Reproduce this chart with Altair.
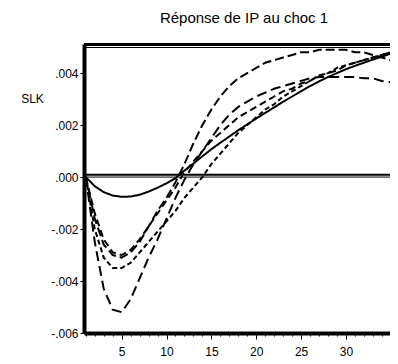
import altair as alt
import pandas as pd

periods = list(range(1, 37))

solid_a = [0, -0.00035, -0.00058, -0.00071, -0.00076, -0.00075, -0.00068, -0.00056, -0.00041, -0.00024,
           -0.00004, 0.00025, 0.00052, 0.00080, 0.00107, 0.00132, 0.00156, 0.00180, 0.00203, 0.00225,
           0.00247, 0.00268, 0.00290, 0.00310, 0.00330, 0.00350, 0.00368, 0.00385, 0.00400, 0.00415,
           0.00428, 0.00440, 0.00452, 0.00463, 0.00475, 0.00487]
dash_b = [0, -0.0016, -0.0026, -0.0030, -0.0031, -0.0029, -0.0025, -0.0019, -0.0013, -0.0008,
          -0.0002, 0.0005, 0.0013, 0.0020, 0.0026, 0.0031, 0.0035, 0.0038, 0.0040, 0.0042,
          0.0044, 0.0045, 0.0046, 0.0047, 0.0048, 0.0048, 0.0049, 0.0049, 0.0049, 0.0049,
          0.0048, 0.0048, 0.0047, 0.0046, 0.0045, 0.0044]
dash_c = [0, -0.0025, -0.0043, -0.0051, -0.0052, -0.0047, -0.0039, -0.0031, -0.0024, -0.0016,
          -0.0008, -0.0001, 0.0005, 0.0010, 0.0015, 0.0020, 0.0024, 0.0027, 0.0029, 0.0031,
          0.00325, 0.0034, 0.0035, 0.0036, 0.0037, 0.0038, 0.00385, 0.00385, 0.00385, 0.00385,
          0.00385, 0.0038, 0.0038, 0.0037, 0.00365, 0.0036]
dash_d = [0, -0.0020, -0.0031, -0.0035, -0.0035, -0.0033, -0.0029, -0.0025, -0.0021, -0.0017,
          -0.0013, -0.0008, -0.0004, 0.0000, 0.0005, 0.0009, 0.0013, 0.0017, 0.0020, 0.0023,
          0.0026, 0.0028, 0.0031, 0.0033, 0.0035, 0.0037, 0.0039, 0.0040, 0.0042, 0.0043,
          0.0044, 0.0045, 0.0046, 0.0047, 0.0048, 0.0049]
dash_e = [0, -0.0014, -0.0024, -0.0029, -0.0030, -0.0028, -0.0024, -0.0019, -0.0014, -0.0009,
          -0.0004, 0.0002, 0.0006, 0.0010, 0.0014, 0.0017, 0.0020, 0.0023, 0.0025, 0.0027,
          0.0029, 0.0031, 0.0033, 0.0034, 0.0036, 0.0037, 0.0039, 0.0040, 0.0041, 0.0043,
          0.0044, 0.0045, 0.0046, 0.0047, 0.0048, 0.0049]

y_ticks = [-0.006, -0.004, -0.002, 0.0, 0.002, 0.004]
x_ticks = list(range(1, 36))

series = {"A": solid_a, "B": dash_b, "C": dash_c, "D": dash_d, "E": dash_e}
dashes = {"A": [1, 0], "B": [9, 4], "C": [10, 5], "D": [5, 3], "E": [7, 4]}

rows = []
for name, vals in series.items():
    for t, v in zip(periods, vals):
        rows.append({"t": t, "v": v, "s": name})
df = pd.DataFrame(rows)

FONT = "Liberation Sans"
PW, PH = 306, 289

x_scale = alt.Scale(domain=[0.8, 0.8 + PW / 8.97], nice=False, zero=False)
y_scale = alt.Scale(domain=[-0.006, 0.00512], nice=False, zero=False)

x_axis = alt.Axis(
    values=x_ticks, title=None, grid=False,
    labelExpr="datum.value % 5 === 0 ? datum.value : ''",
    tickSize={"condition": {"test": "datum.value % 5 === 0", "value": 6}, "value": 3},
    tickColor="black", tickWidth=1, domainColor="black", domainWidth=4,
    labelFont=FONT, labelFontSize=12, labelColor="black", labelPadding=7,
    labelFlush=False,
)
y_axis = alt.Axis(
    values=y_ticks, title="SLK", grid=False,
    labelExpr="replace(replace(format(datum.value, '.3f'), '0.', '.'), '\u2212', '-')",
    tickSize=4, tickColor="black", tickWidth=1, domainColor="black", domainWidth=4,
    labelFont=FONT, labelFontSize=12, labelColor="black", labelPadding=2,
    titleAngle=0, titleX=-52, titleY=54, titleAlign="center", titleBaseline="middle",
    titleFont=FONT, titleFontSize=12, titleFontWeight="normal", titleColor="black",
)

X = alt.X("t:Q", scale=x_scale, axis=x_axis)
Y = alt.Y("v:Q", scale=y_scale, axis=y_axis)

base = alt.Chart(df)
layers = []
for name in series:
    layers.append(
        base.transform_filter(alt.datum.s == name)
        .mark_line(color="black", strokeWidth=2, strokeDash=dashes[name], clip=True)
        .encode(x=X, y=Y)
    )

zero_df = pd.DataFrame({"t": [0.8], "v": [0.0]})
zero_thin = alt.Chart(zero_df).mark_rule(color="black", strokeWidth=1).encode(y=Y)
zero_thick = alt.Chart(zero_df).mark_rule(color="black", strokeWidth=2, yOffset=-2.3).encode(y=Y)
top_thick = alt.Chart(zero_df).mark_rule(color="black", strokeWidth=3).encode(
    y=alt.value(0.5), x=alt.value(0), x2=alt.value(PW))
top_thin = alt.Chart(zero_df).mark_rule(color="black", strokeWidth=1).encode(
    y=alt.value(3.5), x=alt.value(0), x2=alt.value(PW))

chart = alt.layer(*layers, zero_thin, zero_thick, top_thick, top_thin).properties(
    width=PW, height=PH,
    title=alt.TitleParams(
        "Réponse de IP au choc 1", font=FONT, fontSize=15, fontWeight="normal",
        color="black", anchor="middle", baseline="alphabetic", offset=5, dx=7,
        frame="group",
    ),
    autosize=alt.AutoSizeParams(type="none"),
    padding={"left": 76, "top": 36, "right": 0, "bottom": 31},
).configure_view(stroke=None).configure(background="white")

chart.save("out.html", embed_options={"renderer": "svg", "actions": False})
